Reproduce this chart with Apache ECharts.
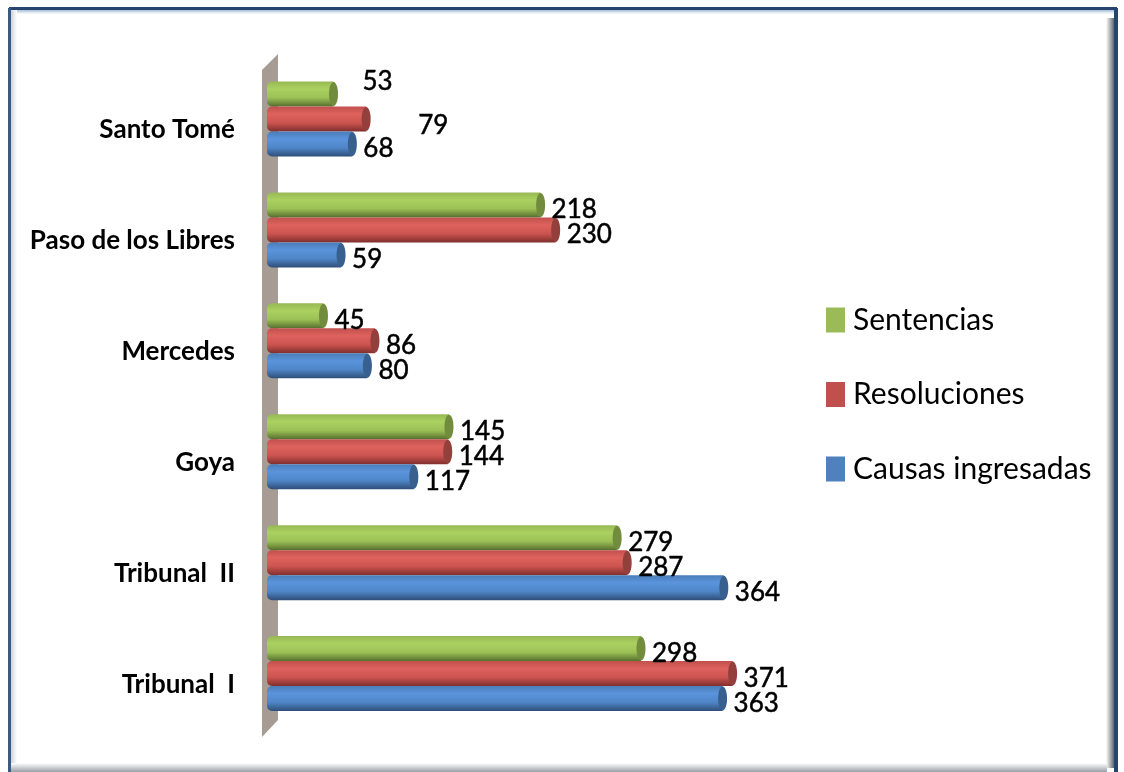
<!DOCTYPE html>
<html><head><meta charset="utf-8">
<style>html,body{margin:0;padding:0;background:#fff}#c{width:1124px;height:772px}</style>
<script src="https://cdn.jsdelivr.net/npm/echarts@6/dist/echarts.min.js"></script>
</head><body><div id="c"></div>
<script>
const categories = ['Tribunal  I','Tribunal  II','Goya','Mercedes','Paso de los Libres','Santo Tomé'];
const sentencias = [298,279,145,45,218,53];
const resoluciones = [371,287,144,86,230,79];
const causas = [363,364,117,80,59,68];
const seriesNames = ['Sentencias','Resoluciones','Causas ingresadas'];
const barH = 25;
const palette = {
  'Causas ingresadas': {base:'#4f81bd', stops:['#4a7db8','#5b94dc','#4f86c8','#2f4e78'], cap:'#37608f'},
  'Resoluciones': {base:'#c0504d', stops:['#c0504d','#de625d','#cc5450','#7f2f2d'], cap:'#93403d'},
  'Sentencias': {base:'#9bbb59', stops:['#97b855','#abd160','#9cc056','#566f2e'], cap:'#728c3e'}
};
const allValues = [sentencias,resoluciones,causas];
const font = 'Lato';
function grad(s){return new echarts.graphic.LinearGradient(0,0,0,1,[
  {offset:0,color:s[0]},{offset:.3,color:s[1]},{offset:.65,color:s[2]},{offset:1,color:s[3]}]);}
// label nudges for the two points placed away from their bars: [series][category]
const labelShift = {'0-5':[18,-12],'1-5':[41,7]};
const barSeries = seriesNames.map((n,si)=>({
  name:n,type:'bar',barWidth:barH,barGap:'0%',z:3,
  itemStyle:{color:grad(palette[n].stops),borderRadius:[5,0,0,5]},
  data:allValues[si].map((v,ci)=>({value:v,label:{offset:labelShift[si+'-'+ci]||[0,5]}})),
  label:{show:true,position:'right',distance:11,color:'#000',fontFamily:font,fontSize:26,
    textBorderColor:'#000',textBorderWidth:0.5}
}));
const capSeries = seriesNames.map((n,si)=>({
  type:'custom',coordinateSystem:'cartesian2d',silent:true,z:4,legendHoverLink:false,
  data:allValues[si].map((v,ci)=>[v,ci]),
  encode:{x:0,y:1},
  renderItem:(p,api)=>{
    const pt=api.coord([api.value(0),api.value(1)]);
    const cy=pt[1]+(si-1)*barH;
    return {type:'ellipse',shape:{cx:pt[0],cy:cy,rx:4.5,ry:barH/2-0.5},style:{fill:palette[n].cap}};
  }
}));
const chart=echarts.init(document.getElementById('c'),null,{renderer:'canvas'});
const edge=(x,y,w,h,dir,a,b)=>({type:'rect',silent:true,z:1,shape:{x,y,width:w,height:h},
  style:{fill:new echarts.graphic.LinearGradient(dir?1:0,0,0,dir?0:1,[{offset:0,color:a},{offset:1,color:b}])}});
chart.setOption({
  animation:false,
  backgroundColor:'#fff',
  grid:{left:267,right:229.5,top:63.5,bottom:43,containLabel:false},
  xAxis:{type:'value',min:0,max:500,show:false},
  yAxis:{type:'category',data:categories,
    axisLine:{show:false},axisTick:{show:false},
    axisLabel:{margin:32,color:'#000',fontFamily:font,fontSize:26,fontWeight:700,
      verticalAlign:'top',lineHeight:22}},
  legend:{orient:'vertical',left:821,top:300,itemWidth:19,itemHeight:25,itemGap:44.5,
    icon:'rect',selectedMode:false,
    textStyle:{fontFamily:font,fontSize:30,color:'#000',padding:[0,0,0,3]},
    data:seriesNames.map(n=>({name:n,itemStyle:{color:palette[n].base}}))},
  graphic:{elements:[
    edge(9,10,1108,4,0,'#a9bdd6','#ffffff'),
    edge(1106,18,9,750,1,'#4e535b','#ffffff'),
    {type:'rect',silent:true,z:1,shape:{x:9,y:7,width:1108,height:3},style:{fill:'#25456f'}},
    {type:'rect',silent:true,z:1,shape:{x:1114,y:8,width:4,height:764},style:{fill:'#25456f'}},
    {type:'rect',silent:true,z:1,shape:{x:8,y:8,width:3,height:764},style:{fill:'#3a5a86'}},
    edge(11,10,6,758,1,'#ffffff','#cfd3d8'),
    edge(11,763,1096,9,0,'#ffffff','#9aa0a8'),
    {type:'polygon',silent:true,z:1,shape:{points:[[262,70],[278,54],[278,720],[262,737]]},
      style:{fill:'#a69c94'}}
  ]},
  series:[...barSeries,...capSeries]
});
</script></body></html>
